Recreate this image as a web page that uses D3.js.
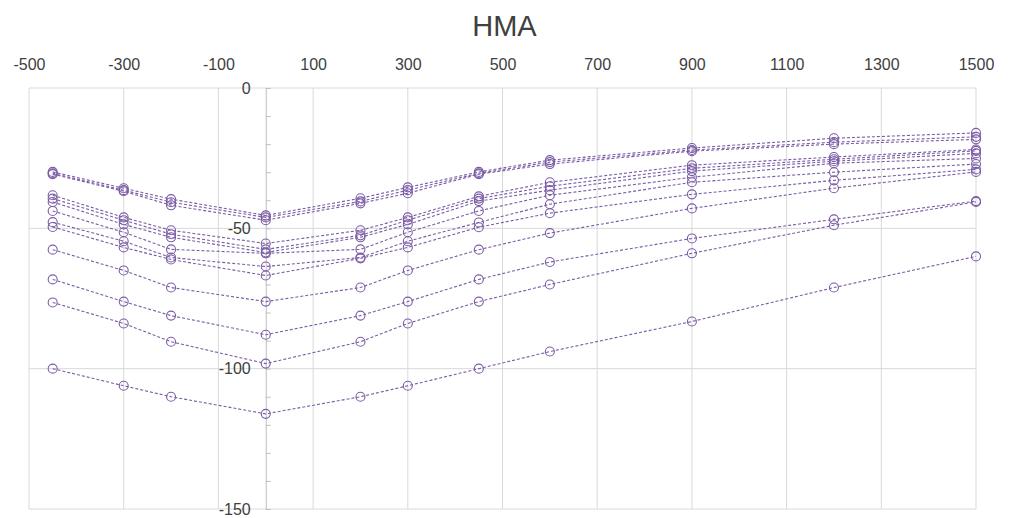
<!DOCTYPE html>
<html>
<head>
<meta charset="utf-8">
<script src="https://cdn.jsdelivr.net/npm/d3@7"></script>
<style>
  html, body { margin: 0; padding: 0; background: #ffffff; }
  svg { display: block; }
  text { font-family: "Liberation Sans", Arial, sans-serif; }
</style>
</head>
<body>
<svg id="chart" width="1009" height="518"></svg>
<script>
// ---- data ----
const chartTitle = "HMA";
const xValues = [-450, -300, -200, 0, 200, 300, 450, 600, 900, 1200, 1500];
const xTickLabels = [-500, -300, -100, 100, 300, 500, 700, 900, 1100, 1300, 1500];
const yTickLabels = [0, -50, -100, -150];

const series1  = [-29.9, -35.7, -39.6, -45.4, -39.3, -35.4, -29.9, -25.7, -21.4, -17.9, -16.0];
const series2  = [-30.4, -36.4, -40.7, -46.1, -40.4, -36.4, -30.4, -26.4, -22.1, -19.3, -17.4];
const series3  = [-30.7, -36.8, -41.8, -47.1, -41.1, -37.5, -30.7, -27.1, -22.5, -20.0, -18.3];
const series4  = [-38.2, -46.1, -50.7, -55.4, -50.7, -46.1, -38.6, -33.6, -27.5, -24.6, -21.9];
const series5  = [-39.4, -47.1, -52.1, -57.5, -52.5, -47.1, -39.4, -35.0, -28.6, -25.4, -22.4];
const series6  = [-40.6, -48.6, -53.2, -58.6, -53.2, -48.6, -40.3, -36.4, -29.6, -26.1, -23.3];
const series7  = [-43.8, -51.4, -57.5, -58.9, -57.5, -51.4, -43.8, -38.2, -31.8, -26.8, -25.1];
const series8  = [-47.8, -54.6, -60.4, -63.6, -60.4, -54.6, -47.9, -41.4, -33.6, -30.0, -27.1];
const series9  = [-49.5, -56.8, -61.1, -66.8, -60.7, -56.8, -49.6, -44.6, -37.9, -32.9, -29.0];
const series10 = [-57.6, -65.0, -71.1, -76.1, -71.1, -65.0, -57.6, -51.7, -42.9, -35.7, -29.9];
const series11 = [-68.2, -76.1, -81.1, -87.9, -81.1, -76.1, -68.2, -62.0, -53.6, -46.8, -40.3];
const series12 = [-76.4, -83.9, -90.4, -98.2, -90.4, -83.9, -76.1, -70.0, -58.9, -48.9, -40.6];
const series13 = [-100.0, -106.1, -110.0, -116.1, -110.0, -106.1, -100.0, -93.9, -83.2, -71.1, -60.0];

const allSeries = [series1, series2, series3, series4, series5, series6, series7,
                   series8, series9, series10, series11, series12, series13];

// ---- drawing ----
const svg = d3.select("#chart");
const purple = "#7B5CA6";
const gridColor = "#d9d9d9";
const labelFmt = d => String(d);

const x = d3.scaleLinear().domain([-500, 1500]).range([29, 976]);
const y = d3.scaleLinear().domain([-150, 0]).range([509, 88]);

// title
svg.append("text")
  .attr("x", 504.5).attr("y", 36)
  .attr("text-anchor", "middle")
  .attr("font-size", 29)
  .attr("fill", "#404040")
  .text(chartTitle);

// vertical gridlines
svg.append("g").selectAll("line").data(xTickLabels).join("line")
  .attr("x1", d => x(d)).attr("x2", d => x(d))
  .attr("y1", y(0)).attr("y2", y(-150))
  .attr("stroke", gridColor).attr("stroke-width", 1);

// horizontal gridlines
svg.append("g").selectAll("line").data(yTickLabels).join("line")
  .attr("x1", x(-500)).attr("x2", x(1500))
  .attr("y1", d => y(d)).attr("y2", d => y(d))
  .attr("stroke", gridColor).attr("stroke-width", 1);

// x axis labels (top)
const xAxis = svg.append("g")
  .attr("transform", `translate(0,${y(0)})`)
  .call(d3.axisTop(x).tickValues(xTickLabels).tickSize(0).tickPadding(18).tickFormat(labelFmt));
xAxis.select(".domain").remove();
xAxis.selectAll("text").attr("font-size", 16).attr("fill", "#404040")
  .attr("font-family", "'Liberation Sans', Arial, sans-serif");

// y axis at x = 0
const yAxisG = svg.append("g").attr("transform", `translate(${x(0)},0)`);
yAxisG.call(d3.axisLeft(y).tickValues(yTickLabels).tickSize(0).tickPadding(15).tickFormat(labelFmt));
yAxisG.select(".domain").attr("stroke", "#bfbfbf");
yAxisG.selectAll("text").attr("font-size", 16).attr("fill", "#404040")
  .attr("font-family", "'Liberation Sans', Arial, sans-serif");

// minor ticks
const minorTicks = d3.range(0, -151, -10);
const minorG = svg.append("g").attr("transform", `translate(${x(0)},0)`)
  .call(d3.axisRight(y).tickValues(minorTicks).tickSize(5).tickFormat(""));
minorG.select(".domain").remove();
minorG.selectAll("line").attr("stroke", "#bfbfbf");

// series lines and markers
const line = d3.line().x((d, i) => x(xValues[i])).y(d => y(d));
const seriesG = svg.append("g");
allSeries.forEach(s => {
  seriesG.append("path")
    .datum(s)
    .attr("d", line)
    .attr("fill", "none")
    .attr("stroke", purple)
    .attr("stroke-width", 1.1)
    .attr("stroke-dasharray", "3,2");
});
allSeries.forEach(s => {
  seriesG.append("g").selectAll("circle").data(s).join("circle")
    .attr("cx", (d, i) => x(xValues[i]))
    .attr("cy", d => y(d))
    .attr("r", 4.5)
    .attr("fill", "none")
    .attr("stroke", purple)
    .attr("stroke-width", 1.1);
});
</script>
</body>
</html>
